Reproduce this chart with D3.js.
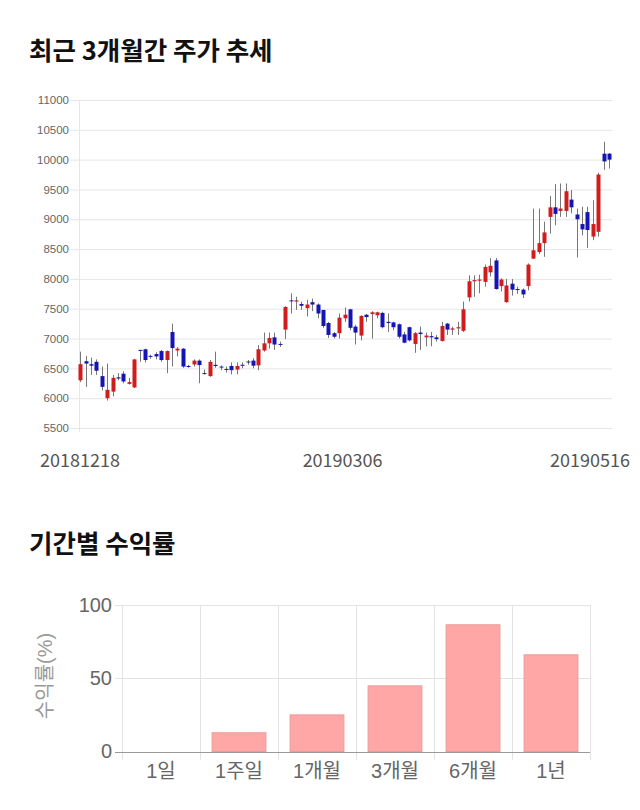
<!DOCTYPE html>
<html><head><meta charset="utf-8">
<script src="https://cdn.jsdelivr.net/npm/d3@7"></script>
<style>
body{margin:0;background:#fff;}
svg{display:block;}
</style></head>
<body>
<svg id="c" width="640" height="810"></svg>
<script>
const dates = ["20181218","20181219","20181220","20181221","20181224","20181226","20181227","20181228",
"20190102","20190103","20190104","20190107","20190108","20190109","20190110","20190111","20190114","20190115","20190116","20190117","20190118","20190121","20190122","20190123","20190124","20190125","20190128","20190129","20190130","20190131",
"20190201","20190207","20190208","20190211","20190212","20190213","20190214","20190215","20190218","20190219","20190220","20190221","20190222","20190225","20190226","20190227","20190228",
"20190304","20190305","20190306","20190307","20190308","20190311","20190312","20190313","20190314","20190315","20190318","20190319","20190320","20190321","20190322","20190325","20190326","20190327","20190328","20190329",
"20190401","20190402","20190403","20190404","20190405","20190408","20190409","20190410","20190411","20190412","20190415","20190416","20190417","20190418","20190419","20190422","20190423","20190424","20190425","20190426","20190429","20190430",
"20190502","20190503","20190507","20190508","20190509","20190510","20190513","20190514","20190515","20190516"];
const opens  = [6300,6620,6570,6610,6370,6000,6110,6350,6410,6240,6180,6810,6820,6710,6740,6790,6640,7110,6800,6830,6540,6565,6630,6420,6370,6560,6530,6490,6540,6480,6560,6615,6630,6550,6800,6920,7020,6910,7150,7640,7620,7580,7510,7610,7570,7480,7260,7090,7090,7340,7490,7200,7050,7400,7410,7390,7430,7280,7270,7240,7070,7190,6910,7100,7020,7040,7020,6960,7250,7150,7170,7130,7690,7960,7970,7950,8110,8310,7880,7610,7920,7830,7820,7880,8340,8450,8600,9040,9200,9140,9140,9330,9080,8920,9120,8710,8790,10100,10100];
const highs  = [6780,6710,6680,6650,6530,6580,6390,6420,6450,6340,6660,6810,6830,6730,6770,6810,6800,7250,6860,6840,6560,6650,6650,6480,6640,6780,6550,6530,6600,6600,6600,6640,6670,6890,7100,7100,7100,6950,7540,7760,7700,7620,7650,7670,7590,7480,7280,7110,7420,7520,7500,7230,7390,7410,7460,7450,7450,7420,7280,7250,7110,7200,7110,7200,7100,7110,7060,7280,7260,7200,7280,7620,8060,8060,8070,8240,8350,8350,8010,8000,8000,7870,7840,8260,9180,9180,8960,9390,9590,9600,9600,9490,9180,9210,9210,9320,9780,10300,10110];
const lows   = [6270,6190,6390,6390,6130,5960,6030,6300,6250,6230,6170,6610,6600,6660,6650,6610,6420,6530,6700,6510,6510,6530,6250,6400,6360,6510,6470,6430,6400,6400,6500,6560,6500,6470,6780,6830,6810,6860,6990,7420,7480,7480,7370,7460,7340,7180,7010,7000,7000,7280,7140,6900,6970,7280,7000,7340,7170,7110,7140,7000,6920,6950,6760,6810,6870,6870,6950,6950,7060,7060,7060,7110,7620,7700,7760,7870,8040,7820,7790,7600,7720,7750,7680,7810,8340,8420,8370,8760,8900,9040,9040,9100,8360,8730,8520,8650,8710,9830,9850];
const closes = [6570,6580,6545,6460,6190,6140,6340,6330,6280,6270,6650,6800,6640,6700,6700,6640,6790,6840,6830,6530,6530,6630,6555,6410,6610,6540,6515,6480,6470,6540,6550,6600,6545,6820,6920,7010,6900,6900,7530,7630,7640,7550,7570,7570,7420,7210,7060,7030,7350,7400,7180,7100,7380,7360,7440,7440,7190,7260,7190,7030,6930,6970,7090,7075,7050,7020,6990,7210,7150,7170,7190,7490,7960,7980,7990,8200,8220,7830,7990,7890,7820,7820,7740,8240,8480,8600,8780,9200,9090,9180,9470,9200,9000,8830,8820,8920,9750,9970,10000];
const priceTicks = [5500,6000,6500,7000,7500,8000,8500,9000,9500,10000,10500,11000];
const dateLabels = ["20181218","20190306","20190516"];

const periods = ["1일","1주일","1개월","3개월","6개월","1년"];
const returns = [0,12.8,25,44.8,86.5,66];
const returnTicks = [0,50,100];

const svg = d3.select("#c");
const KR = "'Noto Sans CJK KR','Noto Sans',sans-serif";

// Titles
svg.append("text").attr("x",29).attr("y",60).text("최근 3개월간 주가 추세")
  .attr("font-family",KR).attr("font-weight","bold").attr("font-size",25.5).attr("fill","#111");
svg.append("text").attr("x",29).attr("y",553).text("기간별 수익률")
  .attr("font-family",KR).attr("font-weight","bold").attr("font-size",25.5).attr("fill","#111");

// ---- Candlestick ----
const x = d3.scaleBand().domain(dates).range([77.6,611.6]).padding(0);
const y = d3.scaleLinear().domain([5500,11000]).range([428,100]);
const g1 = svg.append("g");
g1.append("g").selectAll("line").data(priceTicks).join("line")
  .attr("x1",70).attr("x2",612).attr("y1",d=>y(d)+0.5).attr("y2",d=>y(d)+0.5)
  .attr("stroke","#e6e6e6").attr("stroke-width",1);
g1.append("line").attr("x1",79.5).attr("x2",79.5).attr("y1",y(11000)).attr("y2",y(5500)+4)
  .attr("stroke","#e6e6e6");
const yAx = d3.axisLeft(y).tickValues(priceTicks).tickFormat(d3.format("d")).tickSize(0).tickPadding(0);
g1.append("g").attr("transform","translate(69,0)").call(yAx)
  .call(s=>s.select(".domain").remove())
  .selectAll("text").attr("font-family","'Liberation Sans',Arial,sans-serif").attr("font-size",11.5).attr("fill","#666");

const cx = d => x(d)+x.bandwidth()/2;
const idx = d3.range(dates.length);
g1.append("g").selectAll("line").data(idx).join("line")
  .attr("x1",i=>Math.round(cx(dates[i]))+0.5).attr("x2",i=>Math.round(cx(dates[i]))+0.5)
  .attr("y1",i=>y(highs[i])).attr("y2",i=>y(lows[i]))
  .attr("stroke","#777").attr("stroke-width",1);
g1.append("g").selectAll("rect").data(idx).join("rect")
  .attr("x",i=>Math.round(cx(dates[i]))-1.5).attr("width",4)
  .attr("y",i=>y(Math.max(opens[i],closes[i])))
  .attr("height",i=>Math.max(1,Math.abs(y(opens[i])-y(closes[i]))))
  .attr("fill",i=>closes[i]>=opens[i]?"#d01c1c":"#1515b4");

// date labels
const dl = g1.append("g").selectAll("text").data(dateLabels).join("text")
  .attr("y",467).attr("font-family",KR).attr("font-size",18).attr("fill","#555")
  .text(d=>d);
dl.each(function(d){
  const w = this.getComputedTextLength();
  let xc = cx(d) - w/2 - 2;
  xc = Math.min(xc, 630 - w);
  xc = Math.max(xc, 40);
  d3.select(this).attr("x",xc);
});

// ---- Bar chart ----
const bx = d3.scaleBand().domain(periods).range([122,590]).paddingInner(0.31).paddingOuter(0.155);
const bandStep = 78;
const by = d3.scaleLinear().domain([0,100]).range([751.5,605]);
const g2 = svg.append("g");
g2.append("g").selectAll("line").data(d3.range(periods.length+1)).join("line")
  .attr("x1",i=>122+i*bandStep+0.5).attr("x2",i=>122+i*bandStep+0.5)
  .attr("y1",605).attr("y2",760).attr("stroke","#e3e3e3");
g2.append("g").selectAll("line").data(returnTicks).join("line")
  .attr("x1",115).attr("x2",590).attr("y1",d=>Math.round(by(d))+0.5).attr("y2",d=>Math.round(by(d))+0.5)
  .attr("stroke",d=>d===0?"#999":"#e3e3e3");
g2.append("g").selectAll("rect").data(periods).join("rect")
  .attr("x",d=>bx(d)).attr("width",bx.bandwidth())
  .attr("y",(d,i)=>by(returns[i])).attr("height",(d,i)=>by(0)-by(returns[i]))
  .attr("fill","#ffa6a6").attr("stroke","#eb9b9b").attr("stroke-width",1);
const byAx = d3.axisLeft(by).tickValues(returnTicks).tickSize(0).tickPadding(0);
g2.append("g").attr("transform","translate(112,0)").call(byAx)
  .call(s=>s.select(".domain").remove())
  .selectAll("text").attr("font-family","'Liberation Sans',Arial,sans-serif").attr("font-size",20).attr("fill","#666");
const bxAx = d3.axisBottom(bx).tickSize(0).tickPadding(0);
g2.append("g").attr("transform","translate(0,763)").call(bxAx)
  .call(s=>s.select(".domain").remove())
  .selectAll("text").attr("font-family","'Liberation Sans','Noto Sans CJK KR',sans-serif").attr("font-size",20).attr("fill","#666").attr("dy","0.75em");
svg.append("text").attr("transform","translate(52,676) rotate(-90)").attr("text-anchor","middle")
  .attr("font-family","'Liberation Sans','Noto Sans CJK KR',sans-serif").attr("font-size",20).attr("fill","#999")
  .text("수익률(%)");
</script>
</body></html>
